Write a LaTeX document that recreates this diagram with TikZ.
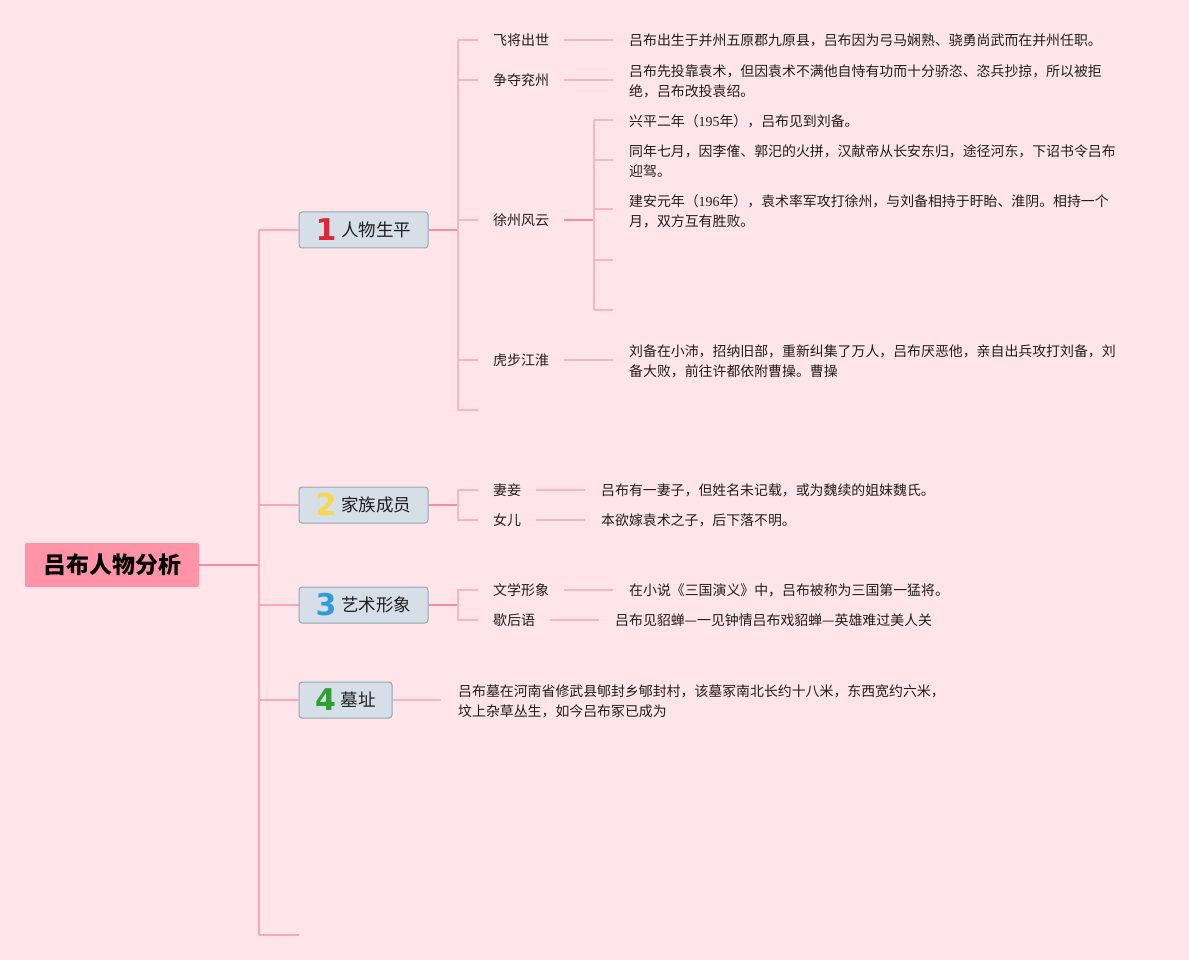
\documentclass[tikz,border=0pt]{standalone}
\usepackage{fontspec}
\setmainfont{Noto Sans CJK SC}
\newfontfamily\numfont{DejaVu Sans}
\newfontfamily\serifnum{Liberation Serif}
\definecolor{bg}{HTML}{FFE4EA}
\definecolor{rootfill}{HTML}{FF94A8}
\definecolor{boxfill}{HTML}{D6DEE8}
\definecolor{boxline}{HTML}{8EAAAA}
\definecolor{strongline}{HTML}{F48FAB}
\definecolor{trunkline}{HTML}{F6A8BF}
\definecolor{lightline}{HTML}{F7B5C8}
\definecolor{txt}{HTML}{1E1E1E}
\definecolor{numred}{HTML}{D9283A}
\definecolor{numyellow}{HTML}{F6D84A}
\definecolor{numblue}{HTML}{2D9CDB}
\definecolor{numgreen}{HTML}{2E9E35}
\newcommand{\topicnum}[2]{\smash{\raisebox{-4pt}{\numfont\bfseries\color{#1}\fontsize{30}{30}\selectfont #2}}\hspace{5pt}}
\begin{document}
\begin{tikzpicture}[x=1pt,y=-1pt,
  rootbox/.style={fill=rootfill, rounded corners=2pt, minimum width=174pt, minimum height=44pt, inner sep=0pt, font=\fontsize{23}{28}\selectfont\bfseries, text=black},
  topicbox/.style={fill=boxfill, draw=boxline, line width=1pt, rounded corners=3pt, minimum height=36pt, inner sep=0pt, font=\fontsize{17.5}{20}\selectfont, text=txt},
  leaf/.style={anchor=west, inner sep=0pt, font=\fontsize{14}{20}\selectfont, text=txt, align=left},
  note/.style={anchor=west, inner sep=0pt, font=\fontsize{13.9}{20}\selectfont, text=txt, align=left},
  strong/.style={draw=strongline, line width=2pt},
  trunk/.style={draw=trunkline, line width=1.8pt},
  light/.style={draw=lightline, line width=1.5pt},
  gap/.style={light, shorten <=15pt, shorten >=16pt}
]
\useasboundingbox (0,0) rectangle (1189,960);
\fill[bg] (0,0) rectangle (1189,960);

% root
\node[rootbox] (root) at (112,565) {吕布人物分析};

% topic boxes
\node[topicbox, minimum width=129pt] (b1) at (363.5,230) {\topicnum{numred}{1}人物生平};
\node[topicbox, minimum width=129pt] (b2) at (363.5,505) {\topicnum{numyellow}{2}家族成员};
\node[topicbox, minimum width=129pt] (b3) at (363.5,605) {\topicnum{numblue}{3}艺术形象};
\node[topicbox, minimum width=93pt] (b4) at (345.5,700) {\topicnum{numgreen}{4}墓址};

% trunk
\coordinate (j0) at (259,565);
\coordinate (jt) at (259,230);
\coordinate (j2) at (259,505);
\coordinate (j3) at (259,605);
\coordinate (j4) at (259,700);
\coordinate (jb) at (259,935);
\coordinate (jend) at (299,935);
\draw[strong] (root.east) -- (j0);
\draw[trunk] (jt) -- (jb);
\draw[trunk] (jt) -- (jt -| b1.west);
\draw[trunk] (j2) -- (j2 -| b2.west);
\draw[trunk] (j3) -- (j3 -| b3.west);
\draw[trunk] (j4) -- (j4 -| b4.west);
\draw[trunk] (jb) -- (jend);

% ---------- branch 1 ----------
\coordinate (k1) at (458,230);
\draw[strong] (k1 -| b1.east) -- (k1);
\draw[light] (458,40) -- (458,410);
\foreach \y in {40,80,220,360,410} \draw[light] (458,\y) -- (478,\y);

\node[leaf] (l11) at (493,40) {飞将出世};
\node[leaf] (l12) at (493,80) {争夺兖州};
\node[leaf] (l13) at (493,220) {徐州风云};
\node[leaf] (l14) at (493,360) {虎步江淮};

\node[note] (n11) at (629,40) {吕布出生于并州五原郡九原县，吕布因为弓马娴熟、骁勇尚武而在并州任职。};
\node[note] (n12) at (629,81) {吕布先投靠袁术，但因袁术不满他自恃有功而十分骄恣、恣兵抄掠，所以被拒\\绝，吕布改投袁绍。};
\node[note] (n14) at (629,361) {刘备在小沛，招纳旧部，重新纠集了万人，吕布厌恶他，亲自出兵攻打刘备，刘\\备大败，前往许都依附曹操。曹操};
\draw[gap] (l11.east) -- (l11.east -| n11.west);
\draw[gap] (l12.east) -- (l12.east -| n12.west);
\draw[gap] (l14.east) -- (l14.east -| n14.west);

% 徐州风云 sub-branch
\coordinate (k13) at (594,220);
\draw[strong, shorten <=15pt] (l13.east) -- (k13);
\draw[light] (594,120) -- (594,310);
\foreach \y in {120,160,209,260,310} \draw[light] (594,\y) -- (613,\y);
\node[note] (n131) at (629,121) {兴平二年（{\serifnum 195}年），吕布见到刘备。};
\node[note] (n132) at (629,161) {同年七月，因李傕、郭汜的火拼，汉献帝从长安东归，途径河东，下诏书令吕布\\迎驾。};
\node[note] (n133) at (629,211) {建安元年（{\serifnum 196}年），袁术率军攻打徐州，与刘备相持于盱眙、淮阴。相持一个\\月，双方互有胜败。};

% ---------- branch 2 ----------
\coordinate (k2) at (458,505);
\draw[strong] (k2 -| b2.east) -- (k2);
\draw[light] (478,490) -- (458,490) -- (458,520) -- (478,520);
\node[leaf] (l21) at (493,490) {妻妾};
\node[leaf] (l22) at (493,520) {女儿};
\node[note] (n21) at (601,490) {吕布有一妻子，但姓名未记载，或为魏续的姐妹魏氏。};
\node[note] (n22) at (601,520) {本欲嫁袁术之子，后下落不明。};
\draw[gap] (l21.east) -- (l21.east -| n21.west);
\draw[gap] (l22.east) -- (l22.east -| n22.west);

% ---------- branch 3 ----------
\coordinate (k3) at (458,605);
\draw[strong] (k3 -| b3.east) -- (k3);
\draw[light] (478,590) -- (458,590) -- (458,620) -- (478,620);
\node[leaf] (l31) at (493,590) {文学形象};
\node[leaf] (l32) at (493,620) {歇后语};
\node[note] (n31) at (629,590) {在小说《三国演义》中，吕布被称为三国第一猛将。};
\node[note] (n32) at (615,620) {吕布见貂蝉—一见钟情吕布戏貂蝉—英雄难过美人关};
\draw[gap] (l31.east) -- (l31.east -| n31.west);
\draw[gap] (l32.east) -- (l32.east -| n32.west);

% ---------- branch 4 ----------
\node[note] (n41) at (458,701) {吕布墓在河南省修武县郇封乡郇封村，该墓冢南北长约十八米，东西宽约六米，\\坟上杂草丛生，如今吕布冢已成为};
\coordinate (k4) at (441,700);
\draw[light] (k4 -| b4.east) -- (k4);
\end{tikzpicture}
\end{document}
